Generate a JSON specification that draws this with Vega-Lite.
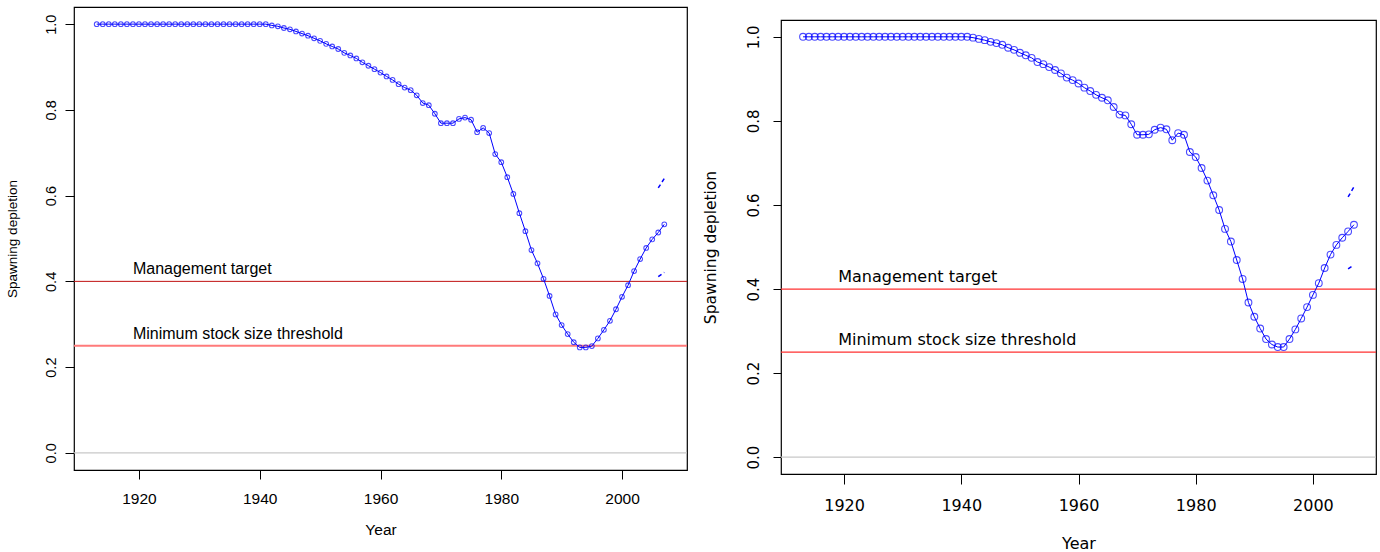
{
  "$schema": "https://vega.github.io/schema/vega-lite/v6.json",
  "padding": {"left": 4, "top": 2, "right": 2, "bottom": 0},
  "background": "white",
  "spacing": 13,
  "config": {
    "view": {"stroke": "#000000", "strokeWidth": 1.2},
    "axis": {"grid": false, "domain": false, "tickColor": "#000000", "labelColor": "#000000", "titleColor": "#000000", "titleFontWeight": "normal"}
  },
  "datasets": {
    "left": [
      {"year": 1913, "value": 1.0}, {"year": 1914, "value": 1.0}, {"year": 1915, "value": 1.0}, {"year": 1916, "value": 1.0}, {"year": 1917, "value": 1.0},
      {"year": 1918, "value": 1.0}, {"year": 1919, "value": 1.0}, {"year": 1920, "value": 1.0}, {"year": 1921, "value": 1.0}, {"year": 1922, "value": 1.0},
      {"year": 1923, "value": 1.0}, {"year": 1924, "value": 1.0}, {"year": 1925, "value": 1.0}, {"year": 1926, "value": 1.0}, {"year": 1927, "value": 1.0},
      {"year": 1928, "value": 1.0}, {"year": 1929, "value": 1.0}, {"year": 1930, "value": 1.0}, {"year": 1931, "value": 1.0}, {"year": 1932, "value": 1.0},
      {"year": 1933, "value": 1.0}, {"year": 1934, "value": 1.0}, {"year": 1935, "value": 1.0}, {"year": 1936, "value": 1.0}, {"year": 1937, "value": 1.0},
      {"year": 1938, "value": 1.0}, {"year": 1939, "value": 1.0}, {"year": 1940, "value": 1.0}, {"year": 1941, "value": 1.0}, {"year": 1942, "value": 0.997},
      {"year": 1943, "value": 0.995}, {"year": 1944, "value": 0.991}, {"year": 1945, "value": 0.988}, {"year": 1946, "value": 0.983}, {"year": 1947, "value": 0.978},
      {"year": 1948, "value": 0.973}, {"year": 1949, "value": 0.967}, {"year": 1950, "value": 0.961}, {"year": 1951, "value": 0.954}, {"year": 1952, "value": 0.948},
      {"year": 1953, "value": 0.942}, {"year": 1954, "value": 0.933}, {"year": 1955, "value": 0.927}, {"year": 1956, "value": 0.92}, {"year": 1957, "value": 0.911},
      {"year": 1958, "value": 0.903}, {"year": 1959, "value": 0.895}, {"year": 1960, "value": 0.887}, {"year": 1961, "value": 0.878}, {"year": 1962, "value": 0.87},
      {"year": 1963, "value": 0.86}, {"year": 1964, "value": 0.852}, {"year": 1965, "value": 0.846}, {"year": 1966, "value": 0.834}, {"year": 1967, "value": 0.816},
      {"year": 1968, "value": 0.811}, {"year": 1969, "value": 0.791}, {"year": 1970, "value": 0.769}, {"year": 1971, "value": 0.769}, {"year": 1972, "value": 0.769},
      {"year": 1973, "value": 0.779}, {"year": 1974, "value": 0.782}, {"year": 1975, "value": 0.777}, {"year": 1976, "value": 0.748}, {"year": 1977, "value": 0.758},
      {"year": 1978, "value": 0.746}, {"year": 1979, "value": 0.697}, {"year": 1980, "value": 0.678}, {"year": 1981, "value": 0.643}, {"year": 1982, "value": 0.604},
      {"year": 1983, "value": 0.559}, {"year": 1984, "value": 0.517}, {"year": 1985, "value": 0.473}, {"year": 1986, "value": 0.442}, {"year": 1987, "value": 0.406},
      {"year": 1988, "value": 0.366}, {"year": 1989, "value": 0.323}, {"year": 1990, "value": 0.298}, {"year": 1991, "value": 0.277}, {"year": 1992, "value": 0.258},
      {"year": 1993, "value": 0.246}, {"year": 1994, "value": 0.246}, {"year": 1995, "value": 0.249}, {"year": 1996, "value": 0.267}, {"year": 1997, "value": 0.287},
      {"year": 1998, "value": 0.308}, {"year": 1999, "value": 0.335}, {"year": 2000, "value": 0.364}, {"year": 2001, "value": 0.391}, {"year": 2002, "value": 0.424},
      {"year": 2003, "value": 0.452}, {"year": 2004, "value": 0.478}, {"year": 2005, "value": 0.498}, {"year": 2006, "value": 0.514}, {"year": 2007, "value": 0.533}
    ],
    "right": [
      {"year": 1913, "value": 1.0}, {"year": 1914, "value": 1.0}, {"year": 1915, "value": 1.0}, {"year": 1916, "value": 1.0}, {"year": 1917, "value": 1.0},
      {"year": 1918, "value": 1.0}, {"year": 1919, "value": 1.0}, {"year": 1920, "value": 1.0}, {"year": 1921, "value": 1.0}, {"year": 1922, "value": 1.0},
      {"year": 1923, "value": 1.0}, {"year": 1924, "value": 1.0}, {"year": 1925, "value": 1.0}, {"year": 1926, "value": 1.0}, {"year": 1927, "value": 1.0},
      {"year": 1928, "value": 1.0}, {"year": 1929, "value": 1.0}, {"year": 1930, "value": 1.0}, {"year": 1931, "value": 1.0}, {"year": 1932, "value": 1.0},
      {"year": 1933, "value": 1.0}, {"year": 1934, "value": 1.0}, {"year": 1935, "value": 1.0}, {"year": 1936, "value": 1.0}, {"year": 1937, "value": 1.0},
      {"year": 1938, "value": 1.0}, {"year": 1939, "value": 1.0}, {"year": 1940, "value": 1.0}, {"year": 1941, "value": 1.0}, {"year": 1942, "value": 0.998},
      {"year": 1943, "value": 0.995}, {"year": 1944, "value": 0.992}, {"year": 1945, "value": 0.988}, {"year": 1946, "value": 0.985}, {"year": 1947, "value": 0.981},
      {"year": 1948, "value": 0.974}, {"year": 1949, "value": 0.969}, {"year": 1950, "value": 0.962}, {"year": 1951, "value": 0.956}, {"year": 1952, "value": 0.95},
      {"year": 1953, "value": 0.94}, {"year": 1954, "value": 0.935}, {"year": 1955, "value": 0.928}, {"year": 1956, "value": 0.921}, {"year": 1957, "value": 0.913},
      {"year": 1958, "value": 0.903}, {"year": 1959, "value": 0.897}, {"year": 1960, "value": 0.889}, {"year": 1961, "value": 0.879}, {"year": 1962, "value": 0.871},
      {"year": 1963, "value": 0.862}, {"year": 1964, "value": 0.855}, {"year": 1965, "value": 0.849}, {"year": 1966, "value": 0.833}, {"year": 1967, "value": 0.815},
      {"year": 1968, "value": 0.813}, {"year": 1969, "value": 0.792}, {"year": 1970, "value": 0.767}, {"year": 1971, "value": 0.767}, {"year": 1972, "value": 0.768},
      {"year": 1973, "value": 0.779}, {"year": 1974, "value": 0.784}, {"year": 1975, "value": 0.78}, {"year": 1976, "value": 0.754}, {"year": 1977, "value": 0.771},
      {"year": 1978, "value": 0.767}, {"year": 1979, "value": 0.726}, {"year": 1980, "value": 0.714}, {"year": 1981, "value": 0.688}, {"year": 1982, "value": 0.658},
      {"year": 1983, "value": 0.623}, {"year": 1984, "value": 0.588}, {"year": 1985, "value": 0.543}, {"year": 1986, "value": 0.513}, {"year": 1987, "value": 0.469},
      {"year": 1988, "value": 0.424}, {"year": 1989, "value": 0.368}, {"year": 1990, "value": 0.334}, {"year": 1991, "value": 0.306}, {"year": 1992, "value": 0.281},
      {"year": 1993, "value": 0.268}, {"year": 1994, "value": 0.262}, {"year": 1995, "value": 0.262}, {"year": 1996, "value": 0.281}, {"year": 1997, "value": 0.304},
      {"year": 1998, "value": 0.33}, {"year": 1999, "value": 0.357}, {"year": 2000, "value": 0.386}, {"year": 2001, "value": 0.414}, {"year": 2002, "value": 0.45},
      {"year": 2003, "value": 0.482}, {"year": 2004, "value": 0.505}, {"year": 2005, "value": 0.522}, {"year": 2006, "value": 0.537}, {"year": 2007, "value": 0.553}
    ],
    "ciLeft": [
      {"year": 2006, "bound": "upper", "value": 0.618}, {"year": 2007, "bound": "upper", "value": 0.64},
      {"year": 2006, "bound": "lower", "value": 0.411}, {"year": 2007, "bound": "lower", "value": 0.421}
    ],
    "ciRight": [
      {"year": 2006, "bound": "upper", "value": 0.619}, {"year": 2007, "bound": "upper", "value": 0.643},
      {"year": 2006, "bound": "lower", "value": 0.448}, {"year": 2007, "bound": "lower", "value": 0.457}
    ],
    "refs": [
      {"kind": "zero", "year": 1919, "value": 0.0, "label": ""},
      {"kind": "target", "year": 1919, "value": 0.4, "label": "Management target"},
      {"kind": "threshold", "year": 1919, "value": 0.25, "label": "Minimum stock size threshold"}
    ],
    "blank": [{"label": ""}]
  },
  "hconcat": [
    {
      "width": 613,
      "height": 463,
      "layer": [
        {
          "data": {"name": "refs"},
          "transform": [{"filter": "datum.kind === 'zero'"}],
          "mark": {"type": "rule", "color": "#c8c8c8", "strokeWidth": 1.2},
          "encoding": {"y": {"field": "value", "type": "quantitative", "scale": {"domain": [-0.04, 1.04], "nice": false, "zero": false}}}
        },
        {
          "data": {"name": "refs"},
          "transform": [{"filter": "datum.kind === 'target'"}],
          "mark": {"type": "rule", "color": "#c01010", "strokeWidth": 1},
          "encoding": {"y": {"field": "value", "type": "quantitative", "scale": {"domain": [-0.04, 1.04], "nice": false, "zero": false}}}
        },
        {
          "data": {"name": "refs"},
          "transform": [{"filter": "datum.kind === 'threshold'"}],
          "mark": {"type": "rule", "color": "#ff7a7a", "strokeWidth": 2},
          "encoding": {"y": {"field": "value", "type": "quantitative", "scale": {"domain": [-0.04, 1.04], "nice": false, "zero": false}}}
        },
        {
          "data": {"name": "left"},
          "mark": {"type": "line", "color": "#0000ff", "strokeWidth": 1},
          "encoding": {
            "x": {"field": "year", "type": "quantitative", "scale": {"domain": [1909.24, 2010.76], "nice": false, "zero": false},
              "axis": {"values": [1920, 1940, 1960, 1980, 2000], "format": "d", "title": "Year", "tickSize": 9, "labelPadding": 12, "titlePadding": 16,
                "labelFont": "Liberation Sans", "labelFontSize": 15.5, "titleFont": "Liberation Sans", "titleFontSize": 15.5}},
            "y": {"field": "value", "type": "quantitative", "scale": {"domain": [-0.04, 1.04], "nice": false, "zero": false},
              "axis": {"values": [0, 0.2, 0.4, 0.6, 0.8, 1.0], "format": ".1f", "title": "Spawning depletion", "tickSize": 9, "labelPadding": 7,
                "labelAngle": 270, "labelAlign": "center", "labelBaseline": "bottom", "titlePadding": 24,
                "labelFont": "Liberation Sans", "labelFontSize": 14.5, "titleFont": "Liberation Sans", "titleFontSize": 13.5}}
          }
        },
        {
          "data": {"name": "left"},
          "mark": {"type": "point", "shape": "circle", "filled": false, "color": "#0000ff", "size": 22, "strokeWidth": 1.1},
          "encoding": {
            "x": {"field": "year", "type": "quantitative", "scale": {"domain": [1909.24, 2010.76], "nice": false, "zero": false}},
            "y": {"field": "value", "type": "quantitative", "scale": {"domain": [-0.04, 1.04], "nice": false, "zero": false}}
          }
        },
        {
          "data": {"name": "ciLeft"},
          "mark": {"type": "line", "color": "#0000ff", "strokeWidth": 1.5, "strokeDash": [4, 3]},
          "encoding": {
            "x": {"field": "year", "type": "quantitative", "scale": {"domain": [1909.24, 2010.76], "nice": false, "zero": false}},
            "y": {"field": "value", "type": "quantitative", "scale": {"domain": [-0.04, 1.04], "nice": false, "zero": false}},
            "detail": {"field": "bound", "type": "nominal"}
          }
        },
        {
          "data": {"name": "refs"},
          "transform": [{"filter": "datum.kind !== 'zero'"}],
          "mark": {"type": "text", "align": "left", "baseline": "alphabetic", "dy": -7, "font": "Liberation Sans", "fontSize": 16, "color": "#000000"},
          "encoding": {
            "x": {"field": "year", "type": "quantitative", "scale": {"domain": [1909.24, 2010.76], "nice": false, "zero": false}},
            "y": {"field": "value", "type": "quantitative", "scale": {"domain": [-0.04, 1.04], "nice": false, "zero": false}},
            "text": {"field": "label"}
          }
        }
      ]
    },
    {
      "spacing": 6,
      "vconcat": [
        {
          "width": 595,
          "height": 2,
          "view": {"stroke": null},
          "data": {"name": "blank"},
          "mark": {"type": "text", "opacity": 0},
          "encoding": {"text": {"field": "label"}}
        },
        {
          "width": 595,
          "height": 454,
          "layer": [
            {
              "data": {"name": "refs"},
              "transform": [{"filter": "datum.kind === 'zero'"}],
              "mark": {"type": "rule", "color": "#c8c8c8", "strokeWidth": 1.2},
              "encoding": {"y": {"field": "value", "type": "quantitative", "scale": {"domain": [-0.04, 1.04], "nice": false, "zero": false}}}
            },
            {
              "data": {"name": "refs"},
              "transform": [{"filter": "datum.kind !== 'zero'"}],
              "mark": {"type": "rule", "color": "#ff3030", "strokeWidth": 1.2},
              "encoding": {"y": {"field": "value", "type": "quantitative", "scale": {"domain": [-0.04, 1.04], "nice": false, "zero": false}}}
            },
            {
              "data": {"name": "right"},
              "mark": {"type": "line", "color": "#0000ff", "strokeWidth": 1},
              "encoding": {
                "x": {"field": "year", "type": "quantitative", "scale": {"domain": [1909.24, 2010.76], "nice": false, "zero": false},
                  "axis": {"values": [1920, 1940, 1960, 1980, 2000], "format": "d", "title": "Year", "tickSize": 10, "labelPadding": 13, "titlePadding": 22,
                    "labelFont": "DejaVu Sans", "labelFontSize": 16, "titleFont": "DejaVu Sans", "titleFontSize": 16}},
                "y": {"field": "value", "type": "quantitative", "scale": {"domain": [-0.04, 1.04], "nice": false, "zero": false},
                  "axis": {"values": [0, 0.2, 0.4, 0.6, 0.8, 1.0], "format": ".1f", "title": "Spawning depletion", "tickSize": 8, "labelPadding": 12,
                    "labelAngle": 270, "labelAlign": "center", "labelBaseline": "bottom", "titlePadding": 28,
                    "labelFont": "DejaVu Sans", "labelFontSize": 15, "titleFont": "DejaVu Sans", "titleFontSize": 15.5}}
              }
            },
            {
              "data": {"name": "right"},
              "mark": {"type": "point", "shape": "circle", "filled": false, "color": "#0000ff", "size": 46, "strokeWidth": 1.1},
              "encoding": {
                "x": {"field": "year", "type": "quantitative", "scale": {"domain": [1909.24, 2010.76], "nice": false, "zero": false}},
                "y": {"field": "value", "type": "quantitative", "scale": {"domain": [-0.04, 1.04], "nice": false, "zero": false}}
              }
            },
            {
              "data": {"name": "ciRight"},
              "mark": {"type": "line", "color": "#0000ff", "strokeWidth": 1.5, "strokeDash": [4, 3]},
              "encoding": {
                "x": {"field": "year", "type": "quantitative", "scale": {"domain": [1909.24, 2010.76], "nice": false, "zero": false}},
                "y": {"field": "value", "type": "quantitative", "scale": {"domain": [-0.04, 1.04], "nice": false, "zero": false}},
                "detail": {"field": "bound", "type": "nominal"}
              }
            },
            {
              "data": {"name": "refs"},
              "transform": [{"filter": "datum.kind !== 'zero'"}],
              "mark": {"type": "text", "align": "left", "baseline": "alphabetic", "dy": -7, "font": "DejaVu Sans", "fontSize": 16, "color": "#000000"},
              "encoding": {
                "x": {"field": "year", "type": "quantitative", "scale": {"domain": [1909.24, 2010.76], "nice": false, "zero": false}},
                "y": {"field": "value", "type": "quantitative", "scale": {"domain": [-0.04, 1.04], "nice": false, "zero": false}},
                "text": {"field": "label"}
              }
            }
          ]
        }
      ]
    }
  ]
}
